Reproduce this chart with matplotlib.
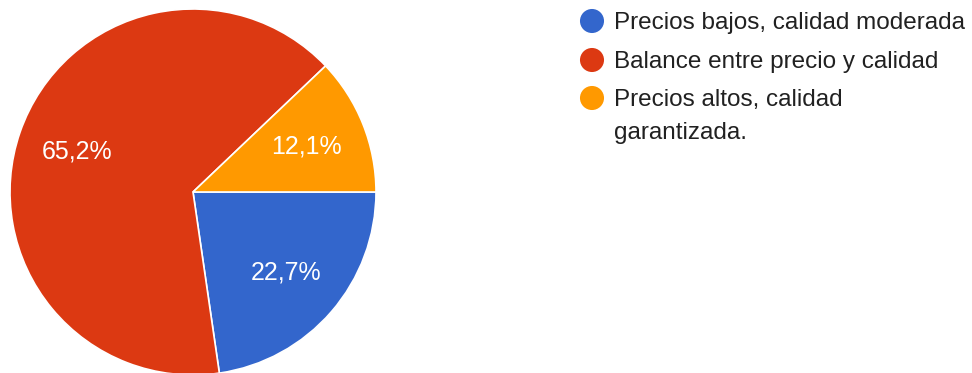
import matplotlib.pyplot as plt

plt.rcParams["font.family"] = ["Liberation Sans", "DejaVu Sans"]

labels = ["Precios bajos, calidad moderada",
          "Balance entre precio y calidad",
          "Precios altos, calidad\ngarantizada."]
values = [22.7, 65.2, 12.1]
colors = ["#3366CC", "#DC3912", "#FF9900"]

W, H = 972, 373
fig = plt.figure(figsize=(W / 100, H / 100), dpi=100)

# pie axes: centre (193, 192) px, radius 183 px
ax = fig.add_axes([10 / W, (H - 375) / H, 366 / W, 366 / H])
wedges, texts, autotexts = ax.pie(
    values, colors=colors, startangle=0, counterclock=False,
    autopct=lambda p: f"{p:.1f}%".replace(".", ","), pctdistance=0.67,
    wedgeprops=dict(edgecolor="white", linewidth=1.2),
    textprops=dict(color="white", fontsize=18))
ax.set_xlim(-1, 1)
ax.set_ylim(-1, 1)
ax.set_aspect("equal")

# legend drawn by hand, one row per slice
lax = fig.add_axes([0, 0, 1, 1])
lax.set_xlim(0, W)
lax.set_ylim(H, 0)
lax.axis("off")
rows_y = [21, 60, 98]
for lab, col, y in zip(labels, colors, rows_y):
    lax.scatter([592], [y], s=300, color=col, edgecolors="none")
    for i, line in enumerate(lab.split("\n")):
        lax.text(614, y + 8 + i * 33, line, fontsize=17.5, color="#212121",
                 va="baseline")

fig.savefig("out.png", dpi=100)
